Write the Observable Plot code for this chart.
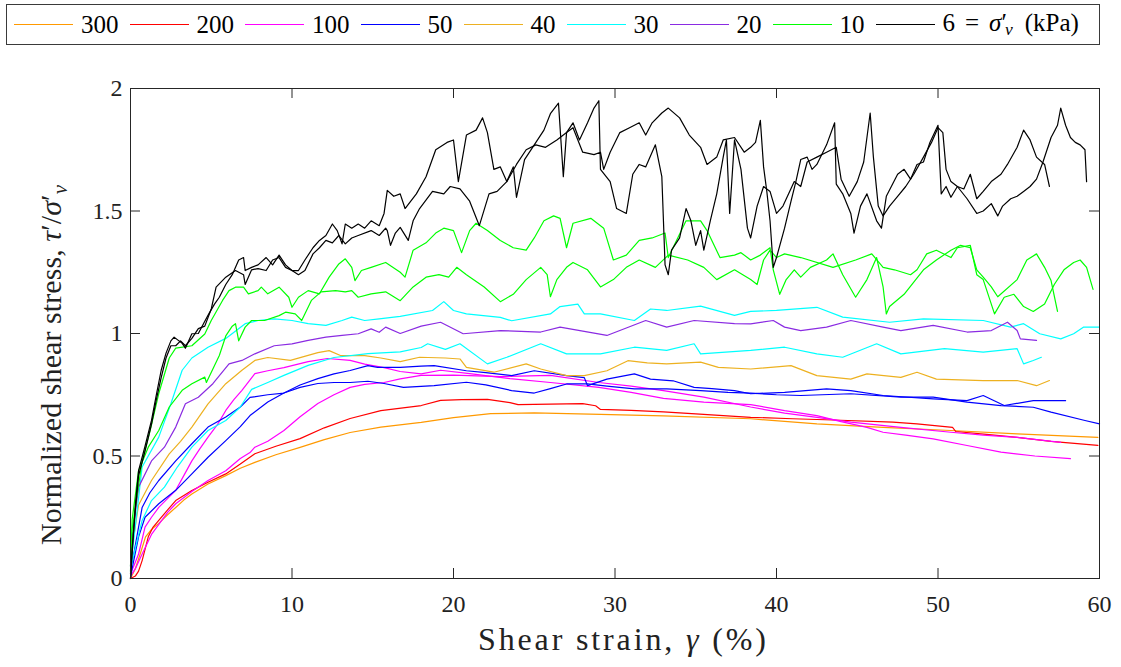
<!DOCTYPE html>
<html>
<head>
<meta charset="utf-8">
<script src="https://cdn.jsdelivr.net/npm/d3@7"></script>
<script src="https://cdn.jsdelivr.net/npm/@observablehq/plot@0.6"></script>
<style>
  html, body { margin: 0; padding: 0; background: #fff; }
  body { width: 1121px; height: 667px; overflow: hidden; position: relative; font-family: "Liberation Serif", "DejaVu Serif", serif; color: #000; }
  #legend { position: absolute; left: 6px; top: 4px; width: 1094px; height: 41px; box-sizing: border-box; border: 1px solid #3a3a3a; display: flex; align-items: center; padding-left: 7px; font-size: 25px; white-space: nowrap; }
  #legend .ln { display: inline-block; width: 59px; height: 0; margin-right: 8px; }
  #legend .lb { margin-right: 11px; line-height: 1; }
  #chart { position: absolute; left: 0; top: 50px; }
</style>
</head>
<body>
<div id="legend"></div>
<div id="chart"></div>
<script>
// ---------------- data ----------------
const xTicks = [0, 10, 20, 30, 40, 50, 60];
const yTicks = [0, 0.5, 1, 1.5, 2];
const stressLevels = ["300", "200", "100", "50", "40", "30", "20", "10", "6"];

// sigma'_v = 300 kPa
const t300 = [[0,0],[0.3,0.04],[0.6,0.1],[0.93,0.17],[1.3,0.2],[1.75,0.225],[2.3,0.26],[2.8,0.29],[3.3,0.32],[3.8,0.345],[4.8,0.386],[5.9,0.42],[6.8,0.45],[7.7,0.474],[9,0.505],[10.5,0.535],[12,0.567],[13.6,0.596],[15.5,0.618],[18,0.637],[20,0.657],[22.3,0.673],[25,0.676],[29.1,0.67],[33,0.664],[38.4,0.652],[42.5,0.631],[46.6,0.617],[50.8,0.604],[54.9,0.59],[59.9,0.576]];
// 200 kPa
const t200 = [[0,0],[0.3,0.01],[0.5,0.03],[0.72,0.073],[1.1,0.17],[1.4,0.21],[1.75,0.237],[2.3,0.28],[2.8,0.318],[3.8,0.359],[4.8,0.393],[5.9,0.427],[6.8,0.467],[7.7,0.509],[9,0.54],[10.5,0.571],[12,0.615],[13.6,0.653],[15.5,0.685],[18,0.706],[19.2,0.727],[20.5,0.73],[22.1,0.731],[23.5,0.718],[24,0.71],[26,0.712],[28,0.714],[28.8,0.705],[29.1,0.69],[31,0.686],[33,0.68],[35,0.672],[38.4,0.658],[41,0.652],[43.5,0.647],[47.2,0.638],[48.7,0.631],[50.9,0.617],[51.1,0.6],[53,0.588],[54.9,0.576],[57,0.56],[59.9,0.543]];
// 100 kPa (two tests)
const t100a = [[0,0.02],[0.2,0.05],[0.5,0.1],[0.9,0.21],[1.3,0.25],[1.75,0.29],[2.8,0.36],[3.3,0.42],[3.8,0.48],[4.3,0.53],[4.8,0.577],[5.4,0.63],[5.9,0.686],[6.4,0.73],[6.9,0.768],[7.7,0.836],[8.5,0.848],[9.5,0.861],[11,0.885],[12.2,0.898],[13.6,0.89],[14.5,0.875],[15.7,0.861],[16.7,0.845],[18,0.835],[19.2,0.85],[21,0.836],[23.5,0.816],[26,0.8],[29,0.78],[31,0.76],[33,0.735],[35.5,0.72],[38.4,0.71],[40.5,0.685],[42.5,0.665],[44,0.64],[45.6,0.617],[46.6,0.597],[48,0.585],[49.7,0.57],[51.8,0.543],[53.9,0.516],[56,0.5],[58.2,0.489]];
const t100b = [[0,0.01],[0.3,0.04],[0.72,0.1],[1.3,0.18],[2.3,0.27],[2.8,0.305],[3.8,0.355],[4.8,0.4],[5.9,0.44],[6.8,0.49],[7.4,0.514],[7.7,0.536],[8.5,0.56],[9.5,0.604],[10.5,0.66],[11.6,0.714],[12.6,0.75],[13.6,0.78],[14.5,0.792],[15.7,0.8],[16.7,0.815],[18,0.829],[20,0.83],[22.9,0.824],[26,0.829],[29,0.8],[31,0.785],[33,0.767],[35.5,0.74],[38.4,0.7],[40.5,0.675],[42.5,0.658],[44.6,0.638],[47.7,0.617],[50.8,0.597],[52.8,0.585],[54.9,0.576],[57.6,0.556]];
// 50 kPa (two tests)
const t50a = [[0,0.03],[0.2,0.1],[0.72,0.29],[1.2,0.35],[1.75,0.4],[2.8,0.48],[3.8,0.55],[4.8,0.618],[5.9,0.659],[6.8,0.7],[7.4,0.739],[8.5,0.75],[9.5,0.757],[10.5,0.78],[11.6,0.796],[12.6,0.8],[13.6,0.8],[14.7,0.805],[15.7,0.796],[16.9,0.78],[18.8,0.787],[20.8,0.801],[22,0.79],[23.6,0.767],[25,0.757],[26,0.775],[27,0.794],[28.3,0.794],[29.5,0.785],[31.2,0.774],[33.2,0.774],[35.3,0.767],[37,0.76],[38.4,0.757],[40,0.75],[41.5,0.747],[44.6,0.754],[47.7,0.74],[49.7,0.74],[51.8,0.72],[53.9,0.706],[55.9,0.699],[57,0.679],[59.1,0.645],[60,0.631]];
const t50b = [[0,0],[0.1,0.04],[0.5,0.17],[0.9,0.25],[1.75,0.305],[2.8,0.36],[3.8,0.427],[4.8,0.495],[5.9,0.563],[6.8,0.62],[7.4,0.665],[8.5,0.72],[9.5,0.757],[10.5,0.79],[11.6,0.816],[12.6,0.835],[13.6,0.849],[14.7,0.869],[15.3,0.862],[16.7,0.862],[18,0.867],[18.8,0.869],[20.8,0.848],[22,0.84],[23.6,0.828],[25,0.848],[27,0.828],[28.1,0.82],[28.3,0.787],[29.5,0.814],[31.2,0.835],[32.2,0.814],[33.6,0.807],[34.9,0.78],[36,0.775],[37.4,0.767],[38.4,0.754],[40.5,0.76],[43.1,0.774],[44.6,0.767],[46.6,0.747],[49.7,0.733],[51.8,0.726],[52.8,0.747],[54.1,0.706],[55.9,0.726],[57.9,0.726]];
// 40 kPa
const t40 = [[0,0.02],[0.1,0.13],[0.5,0.3],[1.3,0.4],[2.4,0.509],[3.1,0.56],[3.8,0.618],[4.8,0.713],[5.9,0.795],[6.9,0.85],[7.7,0.89],[8.5,0.902],[9.9,0.89],[11.6,0.922],[12.3,0.93],[13,0.91],[14.5,0.91],[15.5,0.9],[16.7,0.885],[17.9,0.903],[19.5,0.9],[20.4,0.896],[20.8,0.862],[22.5,0.842],[24.5,0.876],[25.4,0.855],[27,0.828],[28.1,0.828],[29.5,0.848],[30.8,0.889],[32,0.88],[33.2,0.876],[35.3,0.883],[36.4,0.862],[38.4,0.855],[40.9,0.869],[42.5,0.828],[44.6,0.814],[45.6,0.835],[47.7,0.821],[48.7,0.842],[49.9,0.814],[52.8,0.808],[54.9,0.808],[56.1,0.787],[56.9,0.808]];
// 30 kPa (two tests)
const t30a = [[0,0.05],[0.1,0.1],[0.72,0.455],[1.75,0.577],[2.5,0.713],[3.2,0.85],[3.8,0.9],[4.8,0.944],[5.9,0.98],[7.1,1.04],[7.9,1.053],[8.9,1.06],[10,1.053],[11,1.04],[12.1,1.033],[13.1,1.053],[13.7,1.067],[14.5,1.053],[15.4,1.06],[16.7,1.07],[18.7,1.094],[19.4,1.13],[20,1.094],[20.8,1.08],[22.9,1.066],[23.6,1.052],[26,1.08],[26.6,1.11],[27.7,1.12],[28.1,1.08],[29.1,1.08],[31.2,1.053],[32.2,1.1],[33.2,1.094],[35.3,1.112],[37.4,1.074],[38.4,1.09],[40,1.094],[42.5,1.107],[44.1,1.067],[47,1.046],[49.1,1.06],[52.8,1.053],[54.5,1.026],[55.3,1.04],[56.3,0.999],[57.6,0.978],[58.4,0.999],[59,1.026],[60,1.026]];
const t30b = [[0,0.02],[0.1,0.07],[0.72,0.237],[1.3,0.318],[2.1,0.373],[2.9,0.455],[3.8,0.536],[4.8,0.604],[5.9,0.645],[6.8,0.7],[7.5,0.772],[8.5,0.8],[9.5,0.829],[11,0.87],[12.6,0.902],[14.7,0.918],[16.7,0.925],[18,0.943],[18.4,0.958],[19.5,0.935],[20.4,0.958],[22.1,0.876],[23.3,0.903],[25.4,0.958],[27,0.917],[29.1,0.917],[31.2,0.944],[33.2,0.931],[34.9,0.958],[35.3,0.917],[38.4,0.931],[40.5,0.944],[42.5,0.917],[44.1,0.903],[46.2,0.958],[47.7,0.917],[50.4,0.938],[52.8,0.924],[54.9,0.938],[55.3,0.876],[55.9,0.89],[56.4,0.903]];
// 20 kPa
const t20 = [[0,0.05],[0.1,0.17],[0.5,0.373],[1.3,0.48],[2.1,0.536],[2.8,0.618],[3.4,0.713],[4.2,0.74],[5.1,0.795],[6.1,0.876],[6.9,0.89],[7.7,0.917],[8.9,0.95],[10,0.958],[11,0.972],[12.1,0.985],[13.1,0.992],[14.1,0.999],[14.9,1.019],[15.4,1.005],[15.8,1.026],[16.7,1.0],[18,1.03],[19.2,1.046],[20.6,0.999],[22.9,1.012],[25.4,1.006],[26.6,1.026],[29.5,0.992],[31.9,1.053],[33.2,1.026],[34.9,1.053],[37.4,1.04],[38.4,1.039],[39.8,1.053],[40.5,1.026],[41.5,1.012],[43.1,1.026],[44.6,1.053],[46.6,1.026],[47.7,1.012],[49.7,1.033],[51.8,1.006],[53.3,1.012],[54.3,1.046],[54.9,1.012],[55.1,0.978],[56.1,0.972]];
// 10 kPa (two tests)
const t10a = [[0,0.05],[0.1,0.2],[0.72,0.48],[1.2,0.6],[1.75,0.755],[2.4,0.9],[2.8,0.94],[3.8,0.95],[4.6,0.998],[5,1.053],[5.7,1.135],[6.1,1.175],[6.5,1.189],[7,1.189],[7.3,1.162],[7.9,1.175],[8.1,1.189],[8.5,1.162],[9.2,1.189],[9.8,1.148],[10,1.107],[10.4,1.148],[11,1.175],[11.7,1.162],[12.3,1.23],[12.9,1.284],[13.3,1.305],[13.7,1.27],[13.9,1.216],[14.3,1.257],[14.9,1.27],[15.8,1.29],[16.7,1.25],[17,1.23],[17.5,1.34],[18.3,1.37],[18.9,1.41],[19.4,1.43],[20,1.42],[20.5,1.33],[21,1.42],[21.4,1.45],[22.1,1.42],[22.9,1.38],[23.7,1.35],[24.5,1.34],[25,1.39],[25.6,1.46],[26.2,1.48],[26.6,1.47],[27,1.35],[27.4,1.45],[28.5,1.47],[29.3,1.43],[29.9,1.3],[30.7,1.32],[31.5,1.38],[32.3,1.39],[33.1,1.41],[33.3,1.31],[34.4,1.46],[35.3,1.46],[35.7,1.42],[36.5,1.31],[37.4,1.32],[37.8,1.33],[38.4,1.3],[39,1.32],[39.6,1.35],[39.8,1.26],[40.2,1.16],[40.6,1.22],[41.1,1.26],[41.5,1.23],[42.1,1.27],[43.1,1.3],[43.5,1.325],[44.1,1.24],[44.9,1.148],[45.6,1.22],[46.2,1.31],[46.6,1.19],[46.8,1.08],[47,1.11],[47.9,1.16],[49.1,1.26],[49.9,1.3],[50.8,1.34],[51.4,1.36],[52,1.35],[52.4,1.26],[52.8,1.23],[53.3,1.19],[53.7,1.15],[54.9,1.22],[55.5,1.3],[56.1,1.325],[56.6,1.27],[57,1.216],[57.4,1.09]];
const t10b = [[0,0.03],[0.1,0.24],[0.5,0.44],[1.1,0.536],[1.75,0.604],[2.4,0.7],[3.2,0.768],[3.8,0.795],[4.6,0.822],[4.7,0.8],[5.5,0.91],[5.9,0.99],[6.3,1.03],[6.5,1.04],[6.7,0.97],[7.1,1.026],[7.5,1.053],[8.3,1.053],[9.2,1.073],[9.6,1.087],[10.2,1.08],[10.6,1.053],[11.2,1.135],[11.8,1.17],[12.7,1.175],[13.3,1.17],[13.7,1.175],[14.1,1.148],[14.9,1.162],[15.8,1.17],[16.7,1.134],[17.5,1.19],[18.3,1.23],[19.1,1.24],[19.7,1.23],[20.2,1.27],[20.8,1.24],[21.9,1.19],[22.9,1.13],[23.7,1.16],[24.5,1.22],[25.4,1.27],[25.8,1.24],[26,1.15],[26.4,1.22],[27,1.27],[27.4,1.29],[28.3,1.26],[29.1,1.19],[29.9,1.22],[30.7,1.27],[31.5,1.3],[32.5,1.27],[33.3,1.32],[34.5,1.3],[35.5,1.27],[36.3,1.22],[37.4,1.26],[38.4,1.22],[38.8,1.2],[39.2,1.3],[39.6,1.34],[40,1.31],[40.5,1.325],[41.5,1.31],[43.5,1.27],[44.9,1.3],[45.9,1.325],[46.6,1.27],[47.3,1.26],[48.3,1.24],[48.7,1.26],[49.3,1.325],[49.9,1.34],[50.8,1.31],[51.2,1.35],[52,1.36],[52.4,1.24],[52.8,1.22],[53.5,1.08],[54.1,1.148],[54.7,1.16],[55.3,1.11],[55.9,1.09],[56.6,1.12],[57.2,1.2],[57.8,1.26],[58.4,1.29],[58.8,1.3],[59.2,1.27],[59.6,1.18]];
// 6 kPa (two tests)
const t6a = [[0,0],[0.1,0.1],[0.3,0.3],[0.5,0.44],[0.9,0.54],[1.3,0.645],[1.6,0.75],[1.9,0.85],[2.2,0.92],[2.5,0.97],[2.7,0.985],[2.9,0.975],[3.2,0.96],[3.4,0.94],[3.8,0.999],[4.2,1.0],[4.6,1.05],[4.85,1.08],[5.2,1.12],[5.5,1.148],[5.9,1.2],[6.3,1.24],[6.7,1.3],[7,1.31],[7.1,1.257],[7.5,1.27],[7.9,1.28],[8.4,1.31],[8.8,1.28],[9.2,1.32],[9.6,1.28],[10,1.257],[10.4,1.257],[10.8,1.3],[11.3,1.35],[11.7,1.38],[12.1,1.4],[12.5,1.447],[12.8,1.42],[13.1,1.366],[13.3,1.447],[13.7,1.43],[14.1,1.447],[14.5,1.43],[14.9,1.46],[15.4,1.44],[15.7,1.49],[15.9,1.584],[16.3,1.56],[16.7,1.57],[17,1.51],[17.7,1.57],[18.3,1.64],[18.9,1.75],[19.6,1.78],[20,1.79],[20.3,1.62],[20.8,1.81],[21.4,1.83],[21.8,1.88],[22.1,1.82],[22.5,1.67],[22.9,1.68],[23.3,1.62],[23.7,1.68],[23.9,1.556],[24.4,1.71],[25,1.77],[25.6,1.83],[26,1.897],[26.5,1.94],[26.8,1.64],[27,1.82],[27.4,1.86],[27.8,1.79],[28.3,1.86],[28.7,1.92],[29,1.95],[29.1,1.67],[29.7,1.62],[30.1,1.51],[30.7,1.49],[31.1,1.65],[31.5,1.69],[31.9,1.68],[32.5,1.77],[32.9,1.64],[33.1,1.28],[33.3,1.24],[33.5,1.34],[34,1.39],[34.4,1.51],[34.7,1.46],[35,1.36],[35.3,1.42],[35.5,1.34],[35.9,1.46],[36.3,1.57],[36.7,1.72],[36.9,1.79],[37.1,1.49],[37.4,1.79],[37.8,1.67],[38.2,1.43],[38.4,1.39],[38.8,1.52],[39.2,1.6],[39.6,1.58],[40,1.49],[40.4,1.52],[41.1,1.62],[41.5,1.6],[41.9,1.7],[42.5,1.72],[43.1,1.74],[43.7,1.76],[44,1.63],[44.5,1.56],[45,1.62],[45.4,1.7],[45.8,1.9],[46,1.72],[46.3,1.52],[46.6,1.48],[47,1.52],[47.5,1.56],[48,1.6],[48.5,1.65],[49.1,1.72],[49.6,1.78],[50,1.84],[50.3,1.82],[50.5,1.67],[50.8,1.62],[51.2,1.6],[51.8,1.55],[52.4,1.49],[52.8,1.5],[53.3,1.53],[53.7,1.48],[54,1.52],[54.5,1.55],[54.9,1.56],[55.3,1.58],[55.7,1.6],[56.1,1.63],[56.5,1.7],[57,1.8],[57.4,1.85],[57.6,1.92],[57.9,1.85],[58.2,1.8],[58.5,1.78],[58.8,1.77],[59.1,1.75],[59.2,1.62]];
const t6b = [[0,0],[0.1,0.12],[0.3,0.28],[0.5,0.42],[0.9,0.52],[1.3,0.63],[1.6,0.73],[1.9,0.82],[2.2,0.9],[2.5,0.95],[2.8,0.95],[3.1,0.97],[3.4,0.95],[3.8,0.98],[4.2,1.02],[4.6,1.03],[5,1.1],[5.3,1.189],[5.9,1.23],[6.5,1.257],[7,1.24],[7.1,1.2],[7.5,1.26],[7.9,1.265],[8.4,1.257],[8.8,1.3],[9.2,1.31],[9.6,1.27],[10,1.257],[10.4,1.24],[10.8,1.257],[11.3,1.325],[11.7,1.35],[12.1,1.38],[12.5,1.37],[12.9,1.4],[13.3,1.366],[13.7,1.39],[14.1,1.4],[14.9,1.42],[15.4,1.4],[15.8,1.43],[15.9,1.42],[16.1,1.36],[16.4,1.41],[16.7,1.433],[17.2,1.38],[17.5,1.46],[17.9,1.51],[18.7,1.58],[19.4,1.57],[19.8,1.6],[20.4,1.59],[21,1.54],[21.6,1.44],[22.2,1.57],[22.7,1.58],[23.3,1.62],[23.9,1.69],[24.5,1.75],[25.1,1.77],[25.7,1.76],[26.4,1.79],[27,1.82],[27.4,1.84],[28,1.74],[28.7,1.73],[29.1,1.74],[29.3,1.67],[29.7,1.74],[30.3,1.82],[30.9,1.84],[31.5,1.86],[31.9,1.81],[32.3,1.86],[32.9,1.9],[33.3,1.92],[34,1.88],[34.6,1.81],[35.3,1.76],[35.7,1.69],[36.3,1.72],[36.7,1.79],[37.4,1.8],[38,1.74],[38.4,1.76],[38.7,1.78],[39,1.87],[39.2,1.68],[39.4,1.58],[39.6,1.46],[39.8,1.27],[40,1.31],[40.5,1.43],[40.9,1.54],[41.2,1.62],[41.5,1.71],[41.9,1.72],[42.2,1.67],[42.5,1.69],[43.1,1.77],[43.6,1.86],[43.7,1.61],[44.1,1.57],[44.6,1.49],[44.8,1.41],[45.2,1.52],[45.6,1.57],[46.2,1.46],[46.5,1.43],[46.8,1.56],[47.5,1.65],[47.9,1.67],[48.3,1.63],[48.7,1.69],[49.1,1.7],[49.5,1.78],[50,1.85],[50.2,1.57],[50.5,1.6],[50.8,1.556],[51.2,1.6],[51.6,1.59],[52,1.65],[52.4,1.55],[52.8,1.58],[53.3,1.62],[53.9,1.65],[54.3,1.69],[54.9,1.76],[55.3,1.83],[55.7,1.79],[56.1,1.72],[56.6,1.69],[56.9,1.6]];

// ---------------- styles ----------------
const palette = ["#ff9900", "#ff0000", "#ff00ff", "#0000ff", "#edb120", "#00ffff", "#8a2be2", "#00ff00", "#000000"];
const axisColor = "#262626";

const curves = [
  {level: "300", pts: t300}, {level: "200", pts: t200},
  {level: "100", pts: t100a}, {level: "100", pts: t100b},
  {level: "50", pts: t50a}, {level: "50", pts: t50b},
  {level: "40", pts: t40},
  {level: "30", pts: t30a}, {level: "30", pts: t30b},
  {level: "20", pts: t20},
  {level: "10", pts: t10a}, {level: "10", pts: t10b},
  {level: "6", pts: t6a}, {level: "6", pts: t6b}
];
const rows = curves.flatMap((c, i) => c.pts.map(([x, y]) => ({id: i, level: c.level, x, y})));

// ---------------- legend ----------------
const legend = document.getElementById("legend");
stressLevels.forEach((lv, i) => {
  const ln = document.createElement("span");
  ln.className = "ln";
  ln.style.borderTop = `1.3px solid ${palette[i]}`;
  legend.appendChild(ln);
  const lb = document.createElement("span");
  lb.className = "lb";
  if (i === stressLevels.length - 1) {
    lb.innerHTML = `${lv}<span style="margin:0 10px">=</span><i>σ</i>′<sub style="font-size:70%;vertical-align:-0.25em;margin-left:-2px"><i>v</i></sub><span style="margin-left:12px">(kPa)</span>`;
  } else {
    lb.textContent = lv;
  }
  legend.appendChild(lb);
});

// ---------------- chart ----------------
const W = 1121, H = 617, mL = 130, mR = 22, mT = 38, mB = 89;
const fw = W - mL - mR, fh = H - mT - mB, tl = 10;

const chart = Plot.plot({
  width: W, height: H,
  marginLeft: mL, marginRight: mR, marginTop: mT, marginBottom: mB,
  style: {fontFamily: "'Liberation Serif', serif", fontSize: "24px", color: axisColor, background: "#fff", overflow: "visible"},
  x: {domain: [0, 60]},
  y: {domain: [0, 2]},
  color: {domain: stressLevels, range: palette},
  marks: [
    Plot.line(rows, {x: "x", y: "y", z: "id", stroke: "level", strokeWidth: 1.2}),
    Plot.frame({stroke: axisColor, strokeWidth: 1}),
    Plot.tickX(xTicks, {x: d => d, insetTop: fh - tl, stroke: axisColor}),
    Plot.tickX(xTicks, {x: d => d, insetBottom: fh - tl, stroke: axisColor}),
    Plot.tickY(yTicks, {y: d => d, insetRight: fw - tl, stroke: axisColor}),
    Plot.tickY(yTicks, {y: d => d, insetLeft: fw - tl, stroke: axisColor}),
    Plot.axisX(xTicks, {tickSize: 0, tickPadding: 16, label: null, fontSize: 24, tickFormat: d => String(d), fill: "#222"}),
    Plot.axisY(yTicks, {tickSize: 0, tickPadding: 8, label: null, fontSize: 24, tickFormat: d => String(d), fill: "#222"})
  ]
});
document.getElementById("chart").appendChild(chart);

// axis titles with math italics
const svg = d3.select(chart);
const xl = svg.append("text")
  .attr("x", 478).attr("y", 600)
  .attr("text-anchor", "start")
  .attr("textLength", 288).attr("lengthAdjust", "spacing")
  .attr("font-family", "'Liberation Serif', serif")
  .attr("font-size", 32).attr("fill", "#222");
xl.append("tspan").text("Shear strain, ");
xl.append("tspan").attr("font-style", "italic").text("γ");
xl.append("tspan").text(" (%)");

const yl = svg.append("text")
  .attr("transform", `translate(61,495) rotate(-90)`)
  .attr("text-anchor", "start")
  .attr("textLength", 360).attr("lengthAdjust", "spacing")
  .attr("font-family", "'Liberation Serif', serif")
  .attr("font-size", 30).attr("fill", "#222");
yl.append("tspan").text("Normalized shear stress, ");
yl.append("tspan").attr("font-style", "italic").text("τ");
yl.append("tspan").text("′/");
yl.append("tspan").attr("font-style", "italic").text("σ");
yl.append("tspan").text("′");
yl.append("tspan").attr("font-style", "italic").attr("font-size", 21).attr("dy", 6).text("v");
</script>
</body>
</html>
